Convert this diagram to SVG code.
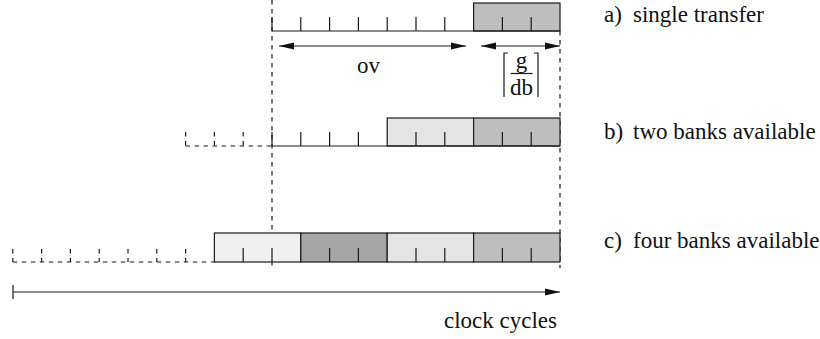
<svg xmlns="http://www.w3.org/2000/svg" width="820" height="339" viewBox="0 0 820 339">
  <style>
    .ln { stroke: #1a1a1a; stroke-width: 1.2; fill: none; }
    .dash { stroke: #1a1a1a; stroke-width: 1.2; fill: none; stroke-dasharray: 4.5 4.5; }
    .box { stroke: #1a1a1a; stroke-width: 1.2; }
    .g1 { fill: #f0f0f0; }
    .g2 { fill: #e4e4e4; }
    .g3 { fill: #bebebe; }
    .g4 { fill: #a6a6a6; }
    .lbl { font-size: 23px; fill: #111; }
    .arr { stroke: #1a1a1a; stroke-width: 1.2; fill: none; }
  </style>
  <defs>
    <marker id="head" viewBox="0 0 15 8" refX="15" refY="4" markerWidth="15" markerHeight="8" markerUnits="userSpaceOnUse" orient="auto-start-reverse">
      <path d="M0,0.5 L15,4 L0,7.5 Z" fill="#111"/>
    </marker>
  </defs>

  <!-- reference verticals -->
  <g id="guides">
    <line class="dash" x1="272" y1="0" x2="272" y2="268"/>
    <line class="dash" x1="560" y1="31" x2="560" y2="268"/>
  </g>

  <g font-family="'Liberation Serif', 'DejaVu Serif', serif">
    <!-- a) single transfer -->
    <g id="row-a">
      <rect class="box g3" x="473.6" y="3" width="86.4" height="28"/>
      <line class="ln" x1="272" y1="31" x2="560" y2="31"/>
      <path class="ln" d="M272,17V31 M300.8,17V31 M329.6,17V31 M358.4,17V31 M387.2,17V31 M416,17V31 M444.8,17V31 M502.4,17V31 M531.2,17V31"/>
      <text class="lbl" y="22"><tspan x="604">a)</tspan><tspan x="633">single transfer</tspan></text>
    </g>

    <!-- b) two banks available -->
    <g id="row-b">
      <rect class="box g2" x="387.2" y="118" width="86.4" height="28"/>
      <rect class="box g3" x="473.6" y="118" width="86.4" height="28"/>
      <line class="dash" x1="185.6" y1="146" x2="272" y2="146"/>
      <path class="dash" d="M185.6,132V146 M214.4,132V146 M243.2,132V146"/>
      <line class="ln" x1="272" y1="146" x2="560" y2="146"/>
      <path class="ln" d="M272,132V146 M300.8,132V146 M329.6,132V146 M358.4,132V146 M416,132V146 M444.8,132V146 M502.4,132V146 M531.2,132V146"/>
      <text class="lbl" y="139"><tspan x="604">b)</tspan><tspan x="633">two banks available</tspan></text>
    </g>

    <!-- c) four banks available -->
    <g id="row-c">
      <rect class="box g1" x="214.4" y="233" width="86.4" height="29"/>
      <rect class="box g4" x="300.8" y="233" width="86.4" height="29"/>
      <rect class="box g2" x="387.2" y="233" width="86.4" height="29"/>
      <rect class="box g3" x="473.6" y="233" width="86.4" height="29"/>
      <line class="dash" x1="12.8" y1="262" x2="214.4" y2="262"/>
      <path class="dash" d="M12.8,249V262 M41.6,249V262 M70.4,249V262 M99.2,249V262 M128,249V262 M156.8,249V262 M185.6,249V262"/>
      <path class="ln" d="M243.2,248V262 M272,248V262 M329.6,248V262 M358.4,248V262 M416,248V262 M444.8,248V262 M502.4,248V262 M531.2,248V262"/>
      <text class="lbl" y="248"><tspan x="604">c)</tspan><tspan x="633">four banks available</tspan></text>
    </g>

    <!-- overhead and transfer-length annotations -->
    <g id="ov-label">
      <text class="lbl" x="368.5" y="73" text-anchor="middle" font-size="22">ov</text>
    </g>
    <g id="ceil-label">
      <path class="ln" d="M508,53H504V97 M534,53H538V97"/>
      <text class="lbl" x="521.5" y="68" text-anchor="middle" font-size="21">g</text>
      <line class="ln" x1="510.5" y1="73.5" x2="532.5" y2="73.5"/>
      <text class="lbl" x="521.5" y="95" text-anchor="middle" font-size="21">db</text>
    </g>
    <g id="clock-label">
      <text class="lbl" x="557" y="328" text-anchor="end">clock cycles</text>
    </g>
  </g>

  <!-- connectors -->
  <g id="connectors">
    <line class="arr" x1="279" y1="46" x2="466" y2="46" marker-start="url(#head)" marker-end="url(#head)"/>
    <line class="arr" x1="481" y1="46" x2="560" y2="46" marker-start="url(#head)" marker-end="url(#head)"/>
    <line class="arr" x1="13" y1="292" x2="560" y2="292" marker-end="url(#head)"/>
    <line class="arr" x1="13" y1="285" x2="13" y2="299"/>
  </g>
</svg>
